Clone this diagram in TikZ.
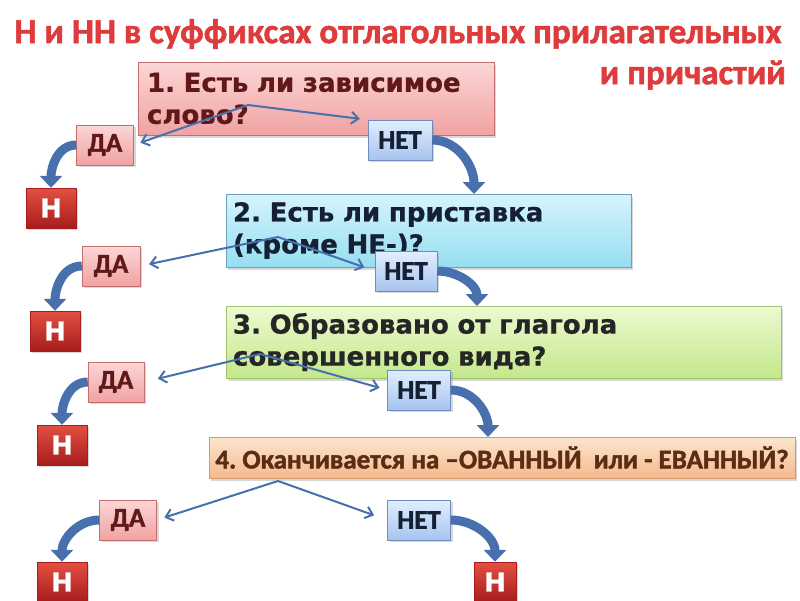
\documentclass[tikz,border=0pt]{standalone}
\usepackage{fontspec}
\setmainfont{DejaVu Sans}[BoldFeatures={FakeBold=0.8}]
\newfontfamily\calfont[FakeBold=1.6]{Carlito}
\usetikzlibrary{arrows.meta}
\usetikzlibrary{shadows}
\frenchspacing

\definecolor{titlered}{RGB}{222,60,60}
\definecolor{arrowblue}{RGB}{72,112,172}
\definecolor{pinkA}{RGB}{252,214,214}
\definecolor{pinkB}{RGB}{240,162,162}
\definecolor{pinkline}{RGB}{196,110,110}
\definecolor{cyanA}{RGB}{214,244,252}
\definecolor{cyanB}{RGB}{150,222,242}
\definecolor{cyanline}{RGB}{110,160,190}
\definecolor{greenA}{RGB}{236,250,208}
\definecolor{greenB}{RGB}{196,232,140}
\definecolor{greenline}{RGB}{160,196,110}
\definecolor{peachA}{RGB}{252,230,206}
\definecolor{peachB}{RGB}{244,186,140}
\definecolor{peachline}{RGB}{214,150,110}
\definecolor{blueA}{RGB}{226,238,255}
\definecolor{blueB}{RGB}{166,196,238}
\definecolor{blueline}{RGB}{110,140,190}
\definecolor{redA}{RGB}{226,80,66}
\definecolor{redB}{RGB}{168,28,28}
\definecolor{maroon}{RGB}{96,24,24}
\definecolor{navy}{RGB}{22,32,52}
\definecolor{brownish}{RGB}{92,44,20}

\tikzset{
  question/.style={rectangle, draw=#1line, top color=#1A, bottom color=#1B,
    align=left, inner sep=0pt,
    drop shadow={opacity=0.3, shadow xshift=2pt, shadow yshift=-3pt},
    font=\bfseries\fontsize{26}{32}\selectfont},
  answer/.style={rectangle, draw=#1line, top color=#1A, bottom color=#1B,
    minimum height=40pt, inner sep=0pt,
    drop shadow={opacity=0.3, shadow xshift=2pt, shadow yshift=-2pt},
    font=\calfont\bfseries\fontsize{27}{27}\selectfont},
  yesbox/.style={answer=pink, minimum width=57pt, text=maroon},
  nobox/.style={answer=blue, minimum width=63pt, text=navy},
  nbox/.style={rectangle, draw=redB, top color=redA, bottom color=redB,
    minimum width=50pt, minimum height=40pt, inner sep=0pt, text=white,
    drop shadow={opacity=0.3, shadow xshift=2pt, shadow yshift=-2pt},
    font=\bfseries\fontsize{26}{26}\selectfont},
  titletext/.style={inner sep=0pt, text=titlered, font=\calfont\bfseries\fontsize{35}{35}\selectfont},
  bigarrow/.style={draw=arrowblue, line width=9pt, -{Triangle[width=22pt,length=12pt]}},
  forkarrow/.style={draw=arrowblue, line width=2pt, -{Straight Barb[length=7pt,width=12pt]}}
}

\begin{document}
\begin{tikzpicture}[x=1pt,y=-1pt]
    \useasboundingbox[fill=white] (0,0) rectangle (800,600);

    % Title
    \node[titletext] (titleA) at (398,34) {Н и НН в суффиксах отглагольных прилагательных};
    \node[titletext, anchor=east] (titleB) at (786,75) {и причастий};

    % Questions
    \node[question=pink, minimum width=356pt, minimum height=73pt, text width=338pt, text=maroon] (q1) at (316,98.5) {1. Есть ли зависимое\\слово?};
    \node[question=cyan, minimum width=405pt, minimum height=73pt, text width=391pt, text=navy] (q2) at (428.5,230.5) {2. Есть ли приставка\\(кроме НЕ-)?};
    \node[question=green, minimum width=555pt, minimum height=72pt, text width=541pt, text=black!85] (q3) at (503.5,342) {3. Образовано от глагола\\совершенного вида?};
    \node[question=peach, minimum width=586pt, minimum height=41pt, text=brownish,
          font=\calfont\bfseries\fontsize{27}{27}\selectfont] (q4) at (502,457.5) {4. Оканчивается на –ОВАННЫЙ\ \ или - ЕВАННЫЙ?};

    % Answers
    \node[yesbox] (da1) at (105,145) {ДА};
    \node[nobox, minimum width=64pt] (net1) at (400,140) {НЕТ};
    \node[nbox] (h1) at (51,208) {Н};

    \node[yesbox, minimum width=58pt] (da2) at (111,266) {ДА};
    \node[nobox, minimum width=62pt] (net2) at (406,271) {НЕТ};
    \node[nbox] (h2) at (55,331) {Н};

    \node[yesbox, minimum width=56pt] (da3) at (116,382) {ДА};
    \node[nobox] (net3) at (419,390) {НЕТ};
    \node[nbox] (h3) at (62,445) {Н};

    \node[yesbox] (da4) at (128,520) {ДА};
    \node[nobox] (net4) at (419,520) {НЕТ};
    \node[nbox] (h4a) at (62,582) {Н};
    \node[nbox, minimum width=42pt] (h4b) at (495,582) {Н};

    % Fork points and entry points
    \coordinate (fork1) at (248,105);
    \coordinate (fork2) at (278,237);
    \coordinate (fork3) at (260,354);
    \coordinate (fork4) at (278,481);
    \coordinate (q2in) at (474,194);
    \coordinate (q3in) at (477,306);
    \coordinate (q4in) at (488,437);

    % Thick arrows
    \draw[bigarrow] (da1.west) to[out=180,in=90] (h1.north);
    \draw[bigarrow] (net1.east) to[out=0,in=90] (q2in);
    \draw[bigarrow] (da2.west) to[out=180,in=90] (h2.north);
    \draw[bigarrow] (net2.east) to[out=0,in=90] (q3in);
    \draw[bigarrow] (da3.west) to[out=180,in=90] (h3.north);
    \draw[bigarrow] (net3.east) to[out=0,in=90] (q4in);
    \draw[bigarrow] (da4.west) to[out=180,in=90] (h4a.north);
    \draw[bigarrow] (net4.east) to[out=0,in=90] (h4b.north);

    % Thin arrows
    \draw[forkarrow, shorten >=7pt] (fork1) -- (da1.east);
    \draw[forkarrow, shorten >=8pt] (fork1) -- (net1.north west);
    \draw[forkarrow, shorten >=9pt] (fork2) -- (da2.east);
    \draw[forkarrow, shorten >=11pt] (fork2) -- (net2.west);
    \draw[forkarrow, shorten >=14pt] (fork3) -- (da3.east);
    \draw[forkarrow, shorten >=8pt] (fork3) -- (net3.west);
    \draw[forkarrow, shorten >=8pt] (fork4) -- (da4.east);
    \draw[forkarrow, shorten >=14pt] (fork4) -- (net4.west);
\end{tikzpicture}
\end{document}
